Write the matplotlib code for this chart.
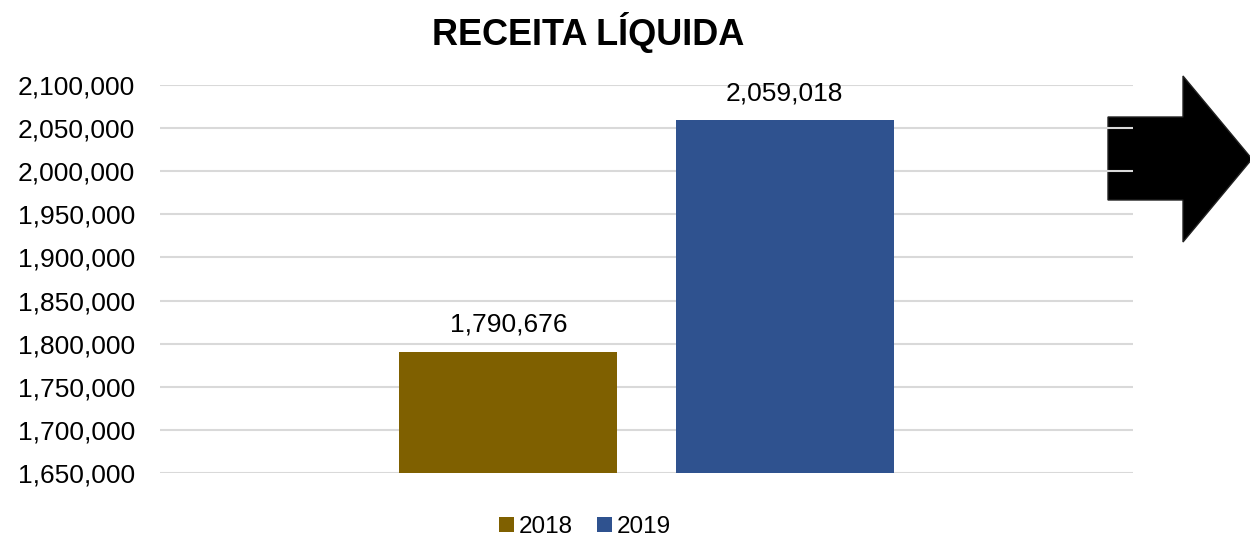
import numpy as np
import matplotlib.pyplot as plt
from matplotlib.patches import Polygon
from matplotlib.ticker import FuncFormatter

plt.rcParams['font.family'] = ['Liberation Sans', 'DejaVu Sans']

title = 'RECEITA LÍQUIDA'
years = ['2018', '2019']
values = [1790676, 2059018]
colors = ['#7F6000', '#2F528F']

fig = plt.figure(figsize=(12.5, 5.37), dpi=100)
ax = fig.add_axes([0.128, 0.1192, 0.7784, 0.7225])
ax.set_facecolor('none')

# arrow shape on the right, behind the gridlines
W, H = 1250.0, 537.0
pts = [(1108, 117), (1183, 117), (1183, 76), (1252, 159), (1183, 242), (1183, 200), (1108, 200)]
arrow = Polygon([(x / W, 1 - y / H) for x, y in pts], closed=True, transform=fig.transFigure,
                facecolor='black', edgecolor='#222222', linewidth=1, zorder=-1)
fig.patches.append(arrow)

width = 0.224
offsets = [-0.142, 0.142]
for yr, v, c, off in zip(years, values, colors, offsets):
    ax.bar(off, v, width=width, color=c, label=yr, zorder=3)
    ax.annotate(f'{v:,}', (off, v), xytext=(0, 11), textcoords='offset points',
                ha='center', va='bottom', fontsize=19)

ax.set_xlim(-0.5, 0.5)
ax.set_ylim(1650000, 2100000)
ax.set_yticks(np.arange(1650000, 2100001, 50000))
ax.yaxis.set_major_formatter(FuncFormatter(lambda v, p: f'{int(v):,}'))
ax.tick_params(axis='y', length=0, labelsize=19, pad=18)
ax.set_xticks([])
ax.grid(axis='y', color='#D9D9D9', linewidth=1.5, zorder=0)
ax.set_axisbelow(True)
for s in ax.spines.values():
    s.set_visible(False)

fig.text(0.4704, 0.94, title, ha='center', va='center', fontsize=26, fontweight='bold')

leg = fig.legend(loc='center', bbox_to_anchor=(0.468, 0.019), ncol=2, frameon=False,
                 fontsize=17.5, handlelength=0.6, handleheight=0.6, handletextpad=0.2,
                 columnspacing=1.0)

fig.savefig('out.png', dpi=100)
